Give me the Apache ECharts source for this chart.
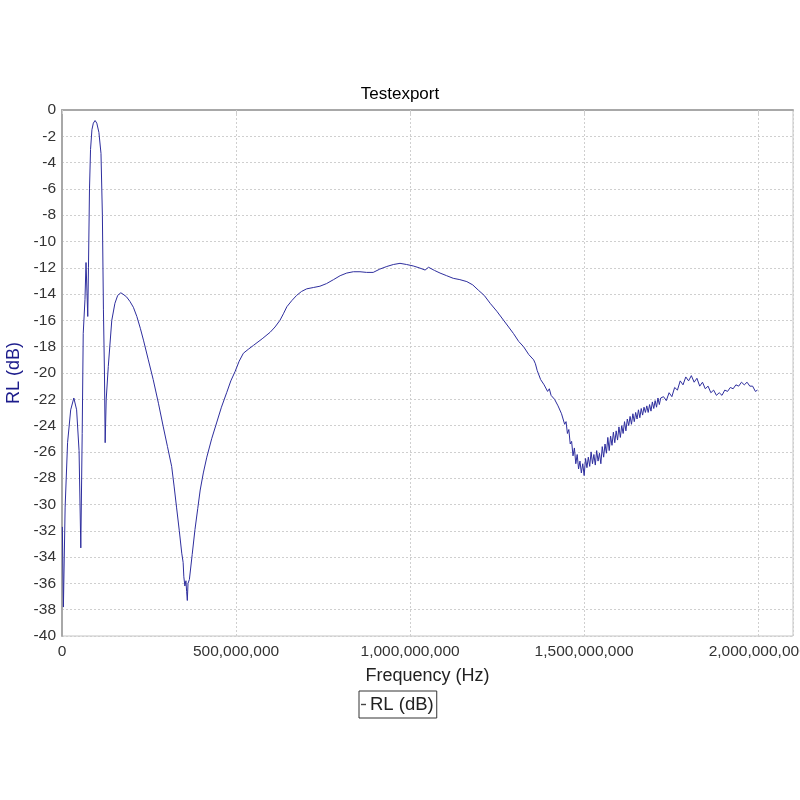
<!DOCTYPE html>
<html><head><meta charset="utf-8">
<script src="https://cdn.jsdelivr.net/npm/echarts@6/dist/echarts.min.js"></script>
<style>html,body{margin:0;padding:0;background:#fff}#c{width:800px;height:800px}</style>
</head><body><div id="c"></div>
<script>
// Frequency in MHz, return loss in dB
const freqMHz = [1,4,9,16,25,34,42,49,54,58,61,66,69,74,76,79,82,86,90,95,100,106,112,116,119,122,124,127,133,143,152,160,169,175,185,195,205,215,225,234,248,262,277,291,303,315,322,329,337,344,348,350,353,356,358,360,362,366,374,382,390,397,406,416,430,444,458,473,485,497,509,521,535,550,575,598,612,626,636,646,660,674,688,703,722,741,760,780,799,818,837,856,875,894,913,933,952,971,990,1009,1026,1043,1048,1053,1070,1086,1105,1124,1143,1163,1180,1196,1213,1230,1249,1268,1283,1297,1312,1326,1341,1355,
  1360,1365,1370,1375,1380,1385,1390,1395,1400,1405,1410,1415,1420,1425,1430,1435,
  1440,1444,1448,1452,1456,1460,1464,1468,1472,1476,1480,1484,1488,1492,1496,1500,1504,1508,1512,1516,1520,1524,1528,1532,1536,1540,1544,1548,1552,1556,1560,1564,1568,1572,1576,1580,1584,1588,1592,1596,1600,1604,1608,1612,1616,1620,1624,1628,1632,1636,1640,1644,1648,1652,1656,1660,1664,1668,1672,1676,1680,1684,1688,1692,1696,1700,1704,1708,1712,1716,1720,
  1728,1736,1744,1752,1760,1768,1776,1784,1792,1800,1808,1816,1824,1832,1840,1848,1856,1864,1872,1880,1888,1896,1904,1912,1920,1928,1936,1944,1952,1960,1968,1976,1984,1992,1998];
const rlDB = [-31.7,-37.8,-30.2,-25.3,-22.8,-21.9,-22.8,-25.9,-33.3,-24.6,-17.0,-14.4,-11.6,-15.7,-12.0,-6.0,-3.0,-1.5,-1.0,-0.8,-1.0,-1.7,-3.3,-8.0,-15.2,-20.0,-25.3,-22.0,-19.5,-16.0,-14.7,-14.1,-13.9,-14.0,-14.2,-14.55,-15.0,-15.7,-16.6,-17.5,-19.0,-20.5,-22.3,-24.1,-25.6,-27.1,-28.6,-30.2,-32.0,-33.7,-34.4,-35.5,-36.2,-35.8,-36.6,-37.3,-36.0,-35.7,-33.8,-31.9,-30.3,-28.9,-27.6,-26.4,-25.0,-23.8,-22.6,-21.5,-20.6,-19.9,-19.1,-18.5,-18.2,-17.9,-17.4,-16.9,-16.5,-16.0,-15.5,-14.96,-14.5,-14.1,-13.8,-13.6,-13.5,-13.4,-13.2,-12.9,-12.6,-12.4,-12.3,-12.3,-12.35,-12.35,-12.1,-11.9,-11.75,-11.66,-11.75,-11.86,-12.0,-12.17,-12.05,-11.96,-12.2,-12.4,-12.6,-12.8,-12.9,-13.05,-13.3,-13.7,-14.1,-14.7,-15.3,-15.97,-16.5,-17.0,-17.6,-18.0,-18.6,-19.0,
  -19.3,-19.8,-19.9,-20.5,-20.4,-20.9,-20.9,-21.4,-21.2,-21.7,-21.6,-22.0,-22.1,-22.5,-22.6,-23.1,
  -23.1,-23.9,-23.7,-24.6,-24.3,-25.4,-25.2,-26.3,-25.7,-26.9,-26.2,-27.3,-26.7,-27.6,-26.9,-27.8,-26.5,-27.2,-26.4,-27.1,-26.0,-26.9,-26.2,-27.0,-25.9,-26.7,-26.1,-26.9,-25.6,-26.4,-25.4,-26.1,-24.9,-25.9,-24.8,-25.5,-24.5,-25.3,-24.4,-25.1,-24.1,-24.9,-24.0,-24.6,-23.7,-24.4,-23.5,-24.0,-23.3,-23.9,-23.1,-23.7,-23.0,-23.5,-22.8,-23.4,-22.7,-23.2,-22.6,-23.0,-22.5,-23.0,-22.4,-22.9,-22.2,-22.7,-22.1,-22.6,-21.9,-22.4,-21.9,
  -21.8,-22.1,-21.5,-21.8,-21.1,-21.3,-20.6,-20.9,-20.3,-20.6,-20.2,-20.7,-20.4,-21.0,-20.7,-21.2,-21.0,-21.5,-21.3,-21.7,-21.5,-21.7,-21.3,-21.4,-21.1,-21.2,-20.9,-21.0,-20.7,-20.9,-20.7,-21.0,-21.0,-21.4,-21.3];
const seriesName = 'RL (dB)';
const titleText = 'Testexport';
const xName = 'Frequency (Hz)';

const data = freqMHz.map((f, i) => [f * 1e6, rlDB[i]]);
const chart = echarts.init(document.getElementById('c'), null, {renderer: 'canvas'});
const font = 'Liberation Sans, Arial, sans-serif';
chart.setOption({
  animation: false,
  backgroundColor: '#fff',
  title: {text: titleText, left: 'center', top: 81, textStyle: {fontFamily: font, fontSize: 17, fontWeight: 'normal', color: '#000'}},
  grid: {left: 62, right: 7, top: 110, bottom: 164, show: true, borderColor: '#c4c4c4', borderWidth: 1, outerBoundsMode: 'none', containLabel: false},
  legend: {
    data: [{name: seriesName, icon: 'rect'}],
    left: 359, top: 691, itemWidth: 5, itemHeight: 1.4, itemGap: 0,
    borderColor: '#333', borderWidth: 1, padding: [4, 3, 4, 2],
    itemStyle: {color: '#444'},
    textStyle: {fontFamily: font, fontSize: 18.5, color: '#222', padding: [0, 0, 0, -1]}
  },
  xAxis: {
    type: 'value', min: 0, max: 2.1e9, interval: 5e8,
    name: xName, nameLocation: 'middle', nameGap: 31,
    nameTextStyle: {fontFamily: font, fontSize: 18, color: '#222'},
    axisLine: {show: true, lineStyle: {color: '#a8a8a8', width: 2}},
    axisTick: {show: true, length: 4, lineStyle: {color: '#ccc'}},
    axisLabel: {fontFamily: font, fontSize: 15.5, color: '#333', margin: 8, showMaxLabel: false,
      formatter: v => Math.round(v).toLocaleString('en-US')},
    splitLine: {show: true, lineStyle: {color: '#cfcfcf', type: [2, 2], width: 1}}
  },
  yAxis: {
    type: 'value', min: -40, max: 0, interval: 2,
    name: seriesName, nameLocation: 'middle', nameGap: 36,
    nameTextStyle: {fontFamily: font, fontSize: 18, color: '#1c1c8c'},
    axisLine: {show: true, lineStyle: {color: '#a8a8a8', width: 2}},
    axisTick: {show: false},
    axisLabel: {fontFamily: font, fontSize: 15.5, color: '#333', margin: 6},
    splitLine: {show: true, lineStyle: {color: '#cfcfcf', type: [2, 2], width: 1}}
  },
  series: [{
    name: seriesName, type: 'line', data: data, showSymbol: false, symbol: 'none',
    lineStyle: {color: '#2e2e9e', width: 1}, itemStyle: {color: '#2e2e9e'}
  }]
});
</script></body></html>
